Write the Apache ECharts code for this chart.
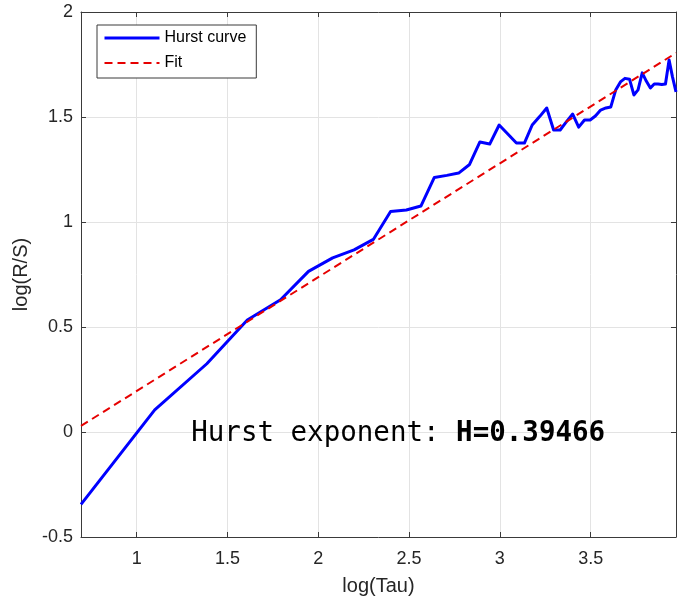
<!DOCTYPE html>
<html>
<head>
<meta charset="utf-8">
<title>Hurst R/S analysis</title>
<script src="https://cdn.jsdelivr.net/npm/echarts@6/dist/echarts.min.js"></script>
<style>
  html, body { margin: 0; padding: 0; background: #fff; }
  #chart { width: 687px; height: 601px; }
</style>
</head>
<body>
<div id="chart"></div>
<script>
// log of the window size (Tau) for each R/S evaluation
const logTau = [
  0.693, 1.099, 1.386, 1.609, 1.792, 1.946, 2.079, 2.197, 2.303, 2.398,
  2.485, 2.565, 2.639, 2.708, 2.773, 2.833, 2.890, 2.944, 2.996, 3.045,
  3.091, 3.135, 3.178, 3.219, 3.258, 3.296, 3.332, 3.367, 3.401, 3.434,
  3.466, 3.497, 3.526, 3.555, 3.584, 3.611, 3.638, 3.664, 3.689, 3.714,
  3.738, 3.761, 3.784, 3.807, 3.829, 3.850, 3.871, 3.892, 3.912, 3.932,
  3.951, 3.970
];

// log of the rescaled range R/S
const logRS = [
  -0.345, 0.105, 0.325, 0.533, 0.630, 0.765, 0.829, 0.867, 0.917, 1.050,
  1.057, 1.076, 1.212, 1.222, 1.233, 1.274, 1.381, 1.371, 1.462, 1.418,
  1.376, 1.376, 1.462, 1.502, 1.543, 1.438, 1.438, 1.478, 1.514, 1.452,
  1.486, 1.486, 1.505, 1.533, 1.543, 1.548, 1.629, 1.667, 1.684, 1.680,
  1.605, 1.629, 1.710, 1.670, 1.638, 1.657, 1.657, 1.655, 1.657, 1.771,
  1.690, 1.620
];

// linear fit, evaluated at the ends of the Tau range
const fitX = [0.693, 3.970];
const fitY = [0.029, 1.805];

const xTicks = [1, 1.5, 2, 2.5, 3, 3.5];
const yTicks = [-0.5, 0, 0.5, 1, 1.5, 2];

const hurstLabel = 'Hurst exponent: ';
const hurstValue = 'H=0.39466';
const hurstAnchor = [1.30, 0];

const axisColor = '#3a3a3a';
const textColor = '#262626';
const gridColor = '#e3e3e3';
const sans = '"Liberation Sans", Arial, Helvetica, sans-serif';
const mono = '"DejaVu Sans Mono", "Liberation Mono", monospace';

const curveColor = '#0000ff';
const fitColor = '#e60000';

const chart = echarts.init(document.getElementById('chart'), null, { renderer: 'canvas' });

const frameLine = { show: true, onZero: false, lineStyle: { color: axisColor, width: 1 } };
const innerTick = { show: true, inside: true, length: 5, lineStyle: { color: axisColor, width: 1 } };

chart.setOption({
  animation: false,
  backgroundColor: '#fff',
  grid: { left: 81, right: 11, top: 12, bottom: 64, containLabel: false, outerBoundsMode: 'none' },
  legend: {
    orient: 'vertical',
    left: 97,
    top: 25,
    data: [
      { name: 'Hurst curve', lineStyle: { width: 3, color: curveColor } },
      { name: 'Fit', lineStyle: { width: 2, color: fitColor, type: [8, 5] } }
    ],
    itemWidth: 55,
    itemHeight: 14,
    itemGap: 9,
    padding: [5, 10, 7, 6],
    borderColor: axisColor,
    borderWidth: 1,
    borderRadius: 0,
    backgroundColor: '#fff',
    // legend keys show only the line sample, no marker
    itemStyle: { opacity: 0 },
    textStyle: { fontFamily: sans, fontSize: 16, color: '#000' }
  },
  xAxis: [
    {
      type: 'value',
      position: 'bottom',
      min: logTau[0],
      max: logTau[logTau.length - 1],
      name: 'log(Tau)',
      nameLocation: 'middle',
      nameGap: 39,
      nameTextStyle: { fontFamily: sans, fontSize: 20, color: textColor },
      axisLine: frameLine,
      axisTick: Object.assign({ customValues: xTicks }, innerTick),
      axisLabel: {
        customValues: xTicks,
        margin: 13,
        fontFamily: sans, fontSize: 18, color: textColor
      },
      splitLine: { show: true, lineStyle: { color: gridColor, width: 1 } }
    },
    {
      type: 'value',
      position: 'top',
      min: logTau[0],
      max: logTau[logTau.length - 1],
      axisLine: frameLine,
      axisTick: Object.assign({ customValues: xTicks }, innerTick),
      axisLabel: { show: false },
      splitLine: { show: false }
    }
  ],
  yAxis: [
    {
      type: 'value',
      position: 'left',
      min: yTicks[0],
      max: yTicks[yTicks.length - 1],
      interval: 0.5,
      name: 'log(R/S)',
      nameLocation: 'middle',
      nameGap: 45,
      nameRotate: 90,
      nameTextStyle: { fontFamily: sans, fontSize: 20, color: textColor },
      axisLine: frameLine,
      axisTick: innerTick,
      axisLabel: { margin: 8, fontFamily: sans, fontSize: 18, color: textColor },
      splitLine: { show: true, lineStyle: { color: gridColor, width: 1 } }
    },
    {
      type: 'value',
      position: 'right',
      min: yTicks[0],
      max: yTicks[yTicks.length - 1],
      interval: 0.5,
      axisLine: frameLine,
      axisTick: innerTick,
      axisLabel: { show: false },
      splitLine: { show: false }
    }
  ],
  series: [
    {
      name: 'Hurst curve',
      type: 'line',
      xAxisIndex: 0,
      yAxisIndex: 0,
      data: logTau.map((x, i) => [x, logRS[i]]),
      symbol: 'none',
      smooth: false,
      clip: true,
      lineStyle: { color: curveColor, width: 3, join: 'round' },
      itemStyle: { color: curveColor },
      z: 3
    },
    {
      name: 'Fit',
      type: 'line',
      xAxisIndex: 0,
      yAxisIndex: 0,
      data: fitX.map((x, i) => [x, fitY[i]]),
      symbol: 'none',
      lineStyle: { color: fitColor, width: 2, type: [8, 5] },
      itemStyle: { color: fitColor },
      z: 4
    },
    {
      name: 'annotation',
      type: 'scatter',
      xAxisIndex: 0,
      yAxisIndex: 0,
      data: [hurstAnchor],
      symbolSize: 0,
      silent: true,
      z: 5,
      itemStyle: { opacity: 1 },
      label: {
        show: true,
        position: 'right',
        distance: 0,
        align: 'left',
        verticalAlign: 'middle',
        offset: [0, 2],
        opacity: 1,
        color: '#000',
        formatter: '{n|' + hurstLabel + '}{b|' + hurstValue + '}',
        rich: {
          n: { fontFamily: mono, fontSize: 27.5, color: '#000', fontWeight: 'normal' },
          b: { fontFamily: mono, fontSize: 27.5, color: '#000', fontWeight: 'bold' }
        }
      }
    }
  ]
});
</script>
</body>
</html>
